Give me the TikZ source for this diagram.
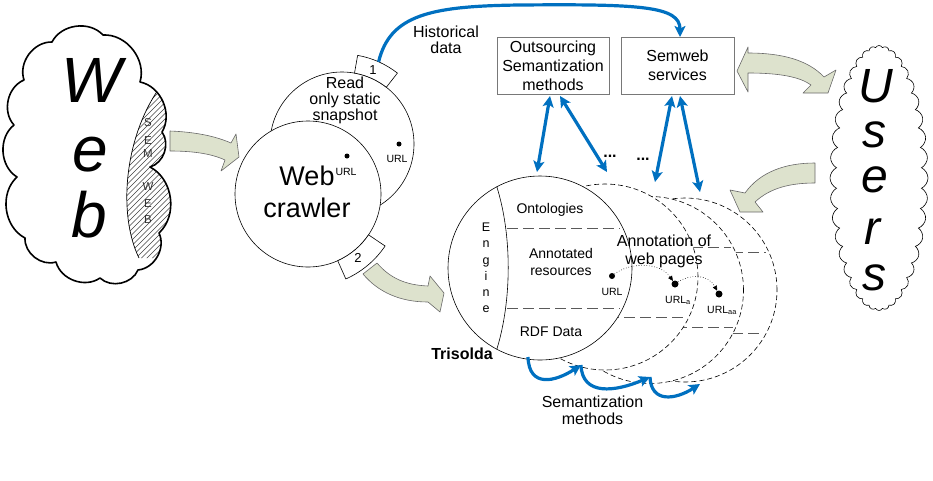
\documentclass[tikz,border=0pt]{standalone}
\usepackage{fontspec}
\setmainfont{Liberation Sans}
\usetikzlibrary{arrows.meta,shapes.symbols,calc}
\definecolor{myblue}{RGB}{0,112,192}
\definecolor{afill}{RGB}{221,226,205}
\definecolor{aedge}{RGB}{105,105,105}
\definecolor{boxedge}{RGB}{120,120,120}
\definecolor{linegray}{RGB}{90,90,90}
\begin{document}
\begin{tikzpicture}[x=1pt,y=-1pt,
  blk/.style={fill=afill,draw=aedge,line width=0.6pt,line join=round},
  bline/.style={draw=myblue,line width=3.2pt,-{Stealth[length=11pt,width=11pt,inset=2.5pt]}},
  bdbl/.style={draw=myblue,line width=3.2pt,{Stealth[length=11pt,width=11pt,inset=2.5pt]}-{Stealth[length=11pt,width=11pt,inset=2.5pt]}},
  lbl/.style={inner sep=0pt,align=center,font=\fontsize{16}{16}\selectfont},
  sml/.style={inner sep=0pt,align=center,font=\fontsize{14}{17}\selectfont},
  urlt/.style={inner sep=0pt,font=\fontsize{10.5}{11}\selectfont},
  bigl/.style={inner sep=0pt,font=\fontsize{64}{64}\selectfont\itshape},
  usrl/.style={inner sep=0pt,font=\fontsize{48}{48}\selectfont\itshape},
  semw/.style={inner sep=0pt,font=\fontsize{11.5}{12}\selectfont,text=black!80},
  thincirc/.style={circle,draw,line width=0.6pt,inner sep=0pt,outer sep=0pt},
  dcirc/.style={circle,draw,line width=0.6pt,dash pattern=on 5pt off 3pt,fill=white,inner sep=0pt,outer sep=0pt},
  hl/.style={draw=linegray,line width=0.8pt,dash pattern=on 11pt off 5pt},
  boxst/.style={draw=boxedge,line width=0.8pt,inner sep=0pt,align=center,font=\fontsize{16}{19}\selectfont},
  tabst/.style={draw,fill=white,line width=0.6pt},
  dsm/.style={circle,fill=black,inner sep=0pt,minimum size=5pt},
  dlg/.style={circle,fill=black,inner sep=0pt,minimum size=7pt},
  durl/.style={draw,line width=0.6pt,dotted,-{Triangle[length=5pt,width=4.5pt]}}
]
\useasboundingbox (0,0) rectangle (933,480);

% ---------------- Web cloud ----------------
\def\webcloud{(24,80) to[bend left=55] (52,42) to[bend left=55] (103,35) to[bend left=55] (140,82) to[bend left=55] (162,132) to[bend left=55] (150,167) to[bend left=55] (159,233) to[bend left=55] (138,270) to[bend left=55] (100,278) to[bend left=55] (56,262) to[bend left=55] (25,238) to[bend left=55] (17,177) to[bend left=55] (14,125) to[bend left=55] (24,80) -- cycle}
\begin{scope}
  \clip \webcloud;
  \clip (158,90) .. controls (124,140) and (118,215) .. (139,258) -- (210,258) -- (210,90) -- cycle;
  \foreach \i in {0,...,36} \draw[line width=0.5pt,black!75] ({-25+\i*5.5},265) -- ({160+\i*5.5},80);
\end{scope}
\begin{scope}
  \clip \webcloud;
  \draw[line width=0.7pt] (158,90) .. controls (124,140) and (118,215) .. (139,258);
\end{scope}
\draw[line width=1.6pt,line join=round] \webcloud;
\foreach \l/\yy [count=\k] in {S/123,E/141,M/154,W/187,E/204,B/220}
  \node[semw] (sw\k) at (148,\yy) {\l};
\node[bigl] (lw) at (92,80) {W};
\node[bigl] (le) at (90,155) {e};
\node[bigl] (lb) at (89,215) {b};

% arrow web -> crawler
\path[blk] (170,131) .. controls (195,132) and (215,136) .. (231,143) -- (236,134) -- (239,157) -- (221,171) -- (225,160) .. controls (210,153) and (190,151) .. (170,151) -- cycle;

% ---------------- crawler ----------------
\node[thincirc,minimum size=144pt] (snap) at (342,144) {};
\path[tabst] ($(snap.center)+(-80:72)$) -- ($(snap.center)+(-80:90)$) arc[start angle=-80,end angle=-52,radius=90] -- ($(snap.center)+(-52:72)$) arc[start angle=-52,end angle=-80,radius=72] -- cycle;
\node[thincirc,fill=white,minimum size=146pt] (crawl) at (308,194) {};
\path[tabst] ($(crawl.center)+(34:73)$) -- ($(crawl.center)+(34:93)$) arc[start angle=34,end angle=66,radius=93] -- ($(crawl.center)+(66:73)$) arc[start angle=66,end angle=34,radius=73] -- cycle;
\node[inner sep=0pt,font=\fontsize{13}{13}\selectfont] (t1) at (373,70) {1};
\node[inner sep=0pt,font=\fontsize{13}{13}\selectfont] (t2) at (358,258) {2};
\node[lbl,font=\fontsize{16}{16}\selectfont] (snaptxt) at (345,100) {Read\\only static\\snapshot};
\node[dsm] (d1) at (399,144) {};
\node[urlt,anchor=base] (u0) at (397,162) {URL};
\node[dsm] (d2) at (347,156) {};
\node[urlt,anchor=base] (u00) at (346,175) {URL};
\node[inner sep=0pt,align=center,font=\fontsize{27}{32}\selectfont] (crtxt) at (307,192) {Web\\crawler};

% arrow crawler -> trisolda
\path[blk] (377,263) .. controls (390,278) and (405,285) .. (428,286) -- (430,276) -- (444,293) -- (440,312) -- (428,302) .. controls (400,302) and (378,292) .. (363,274) -- cycle;

% ---------------- Trisolda ----------------
\node[dcirc,minimum size=184pt] (c4) at (685,290) {};
\draw[hl] (700,252) -- (766,252);
\draw[hl] (700,333) -- (764,333);
\node[dcirc,minimum size=187pt] (c3) at (650,290) {};
\draw[hl] (660,247) -- (731,247);
\draw[hl] (660,327) -- (733,327);
\node[dcirc,minimum size=186pt] (c2) at (605,277) {};
\draw[hl] (560,317) -- (687,317);
\node[thincirc,fill=white,minimum size=184pt] (c1) at (540,268) {};
\draw[line width=0.6pt] (c1.118) .. controls (512,235) and (512,300) .. (c1.242);
\draw[hl] (507,228) -- (620,228);
\draw[hl] (507,308) -- (620,308);

\node[inner sep=0pt,align=center,font=\fontsize{12.5}{16.3}\selectfont] (eng) at (486,268) {E\\n\\g\\i\\n\\e};
\node[sml,anchor=base] (onto) at (550,213) {Ontologies};
\node[sml] (annres) at (561,261.5) {Annotated\\resources};
\node[sml,anchor=base] (rdf) at (551,336) {RDF Data};
\node[inner sep=0pt,align=center,font=\fontsize{16}{18}\selectfont] (annweb) at (664,251.5) {Annotation of\\web pages};
\node[inner sep=0pt,anchor=base,font=\fontsize{16}{16}\selectfont\bfseries] (tris) at (462,359) {Trisolda};

\node[dsm,minimum size=6pt] (p1) at (612,276) {};
\node[dlg] (p2) at (675,284) {};
\node[dlg] (p3) at (719,294) {};
\draw[durl] (p1) .. controls (630,262) and (660,262) .. (p2);
\draw[durl] (p2) .. controls (690,274) and (708,274) .. (p3);
\node[urlt,anchor=base] (ul1) at (612,295) {URL};
\node[urlt,anchor=base] (ul2) at (678,303) {URL\textsubscript{a}};
\node[urlt,anchor=base] (ul3) at (722,313) {URL\textsubscript{aa}};

% semantization hook arrows
\coordinate (s0) at (528,357);
\coordinate (s1) at (581,365);
\coordinate (s2) at (650,377);
\coordinate (s3) at (700,384);
\draw[bline] (s0) .. controls (529,388) and (555,382) .. (s1);
\draw[bline] (s1) .. controls (582,396) and (615,392) .. (s2);
\draw[bline] (s2) .. controls (651,403) and (675,400) .. (s3);
\node[lbl,font=\fontsize{16}{17}\selectfont] (semm) at (592.5,410.5) {Semantization\\methods};

% ---------------- boxes ----------------
\node[boxst,minimum width=112pt,minimum height=57pt] (out) at (553,65.5) {Outsourcing\\Semantization\\methods};
\node[boxst,minimum width=113pt,minimum height=57pt] (sws) at (677.5,65.5) {Semweb\\services};

\coordinate (a1t) at (550,96); \coordinate (a1b) at (537,172);
\coordinate (a2t) at (560,96); \coordinate (a2b) at (607,172);
\coordinate (a3t) at (672,96); \coordinate (a3b) at (655,182);
\coordinate (a4t) at (680,96); \coordinate (a4b) at (700,192);
\draw[bdbl] (a1t) -- (a1b);
\draw[bdbl] (a2t) -- (a2b);
\draw[bdbl] (a3t) -- (a3b);
\draw[bdbl] (a4t) -- (a4b);
\node[inner sep=0pt,anchor=base,font=\fontsize{16}{16}\selectfont\bfseries] (dots1) at (610,157) {...};
\node[inner sep=0pt,anchor=base,font=\fontsize{16}{16}\selectfont\bfseries] (dots2) at (643,160) {...};

% historical data
\coordinate (h0) at ($(snap.center)+(-66:90)$);
\coordinate (h1) at (680,37);
\draw[bline] (h0) .. controls (390,15) and (430,6) .. (520,5) .. controls (640,4) and (680,6) .. (h1);
\node[lbl] (hist) at (446,40) {Historical\\data};

% ---------------- Users ----------------
\node[cloud,draw,line width=0.6pt,cloud puffs=40,cloud puff arc=130,cloud ignores aspect,minimum width=98pt,minimum height=265pt,inner sep=0pt] (users) at (879,178) {};
\node[usrl] (uu) at (876,86) {U};
\node[usrl] (us) at (874,135) {s};
\node[usrl] (ue) at (875,180) {e};
\node[usrl] (ur) at (872,232) {r};
\node[usrl] (us2) at (874,278) {s};

% arrow semweb <-> users
\path[blk] (748,53) .. controls (782,53) and (808,60) .. (824,77) -- (836,70) -- (828,93) -- (803,93) -- (811,85) .. controls (800,77) and (780,73) .. (748,73) -- (748,92) -- (737,71) -- (748,47) -- cycle;
% arrow users -> trisolda
\path[blk] (815,163) .. controls (785,163) and (760,172) .. (745,193) -- (730,190) -- (740,212) -- (763,212) -- (755,202) .. controls (770,188) and (790,183) .. (815,183) -- cycle;
\end{tikzpicture}
\end{document}
